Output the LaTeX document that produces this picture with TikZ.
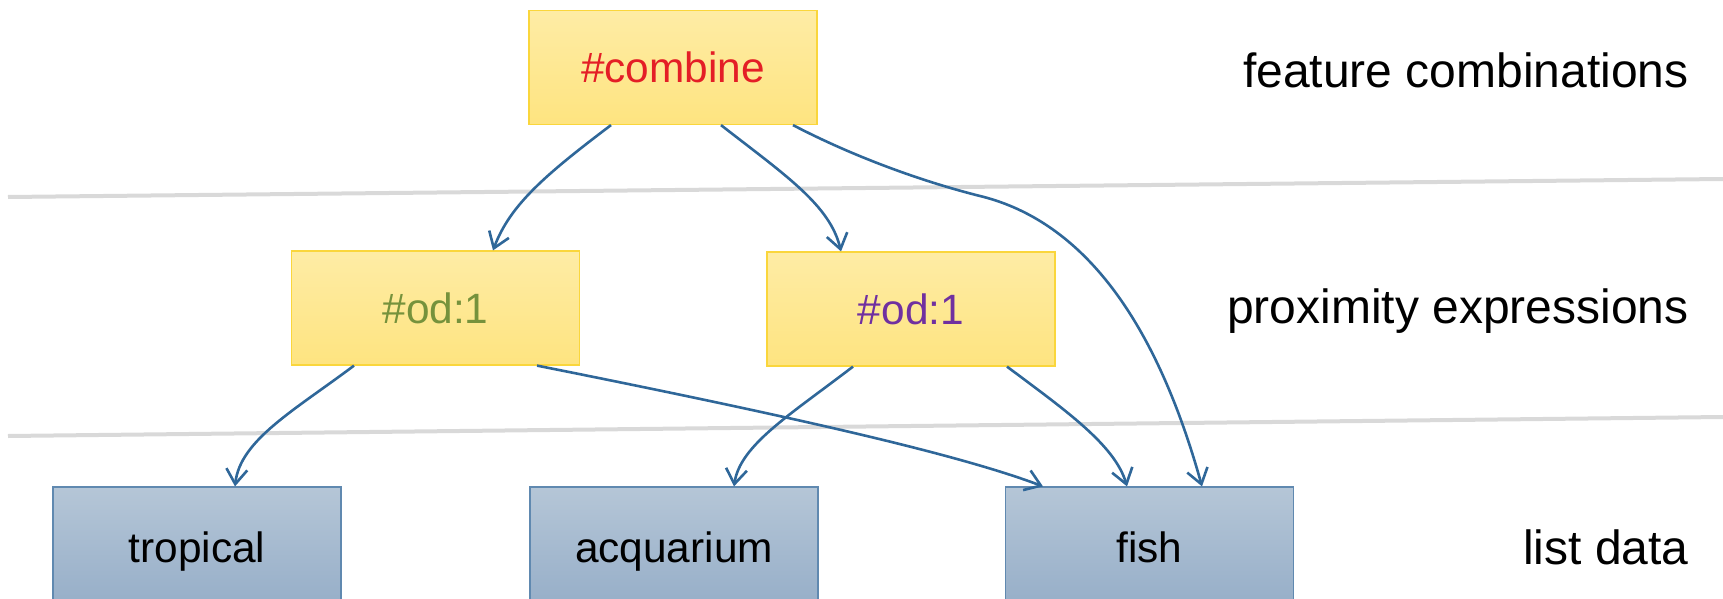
\documentclass[tikz,border=0pt]{standalone}
\usepackage{fontspec}
\setmainfont{Liberation Sans}
\usetikzlibrary{arrows.meta,calc}
\definecolor{ytop}{RGB}{254,236,165}
\definecolor{ybot}{RGB}{254,228,128}
\definecolor{yline}{RGB}{250,214,60}
\definecolor{btop}{RGB}{181,198,215}
\definecolor{bbot}{RGB}{150,174,200}
\definecolor{bline}{RGB}{96,137,176}
\definecolor{connc}{RGB}{47,103,153}
\definecolor{sepc}{RGB}{217,217,217}
\definecolor{tred}{RGB}{228,30,38}
\definecolor{tgreen}{RGB}{118,146,60}
\definecolor{tpurple}{RGB}{112,48,160}
\begin{document}
\begin{tikzpicture}[x=0.5pt,y=-0.5pt,
  ybox/.style={draw=yline, line width=0.6pt, top color=ytop, bottom color=ybot,
    minimum width=144pt, minimum height=57pt, inner sep=0pt,
    font=\fontsize{21.2}{25}\selectfont, text height=15.2pt, text depth=0pt},
  bbox/.style={draw=bline, line width=0.6pt, top color=btop, bottom color=bbot,
    minimum width=144pt, minimum height=60pt, inner sep=0pt, text=black,
    font=\fontsize{21.2}{25}\selectfont, text height=15.2pt, text depth=0pt},
  lbl/.style={anchor=base east, inner sep=0pt, font=\fontsize{24}{28}\selectfont},
  conn/.style={draw=connc, line width=1.3pt, -{Straight Barb[length=7.5pt,width=10.5pt]}},
  sepline/.style={draw=sepc, line width=2pt}]
\clip (0,0) rectangle (1723,599);
% separator lines
\coordinate (s1a) at (8,197);
\coordinate (s1b) at (1723,179);
\coordinate (s2a) at (8,436);
\coordinate (s2b) at (1723,417);
\draw[sepline] (s1a) -- (s1b);
\draw[sepline] (s2a) -- (s2b);
% nodes
\node[ybox, text=tred] (cmb) at (673,67.5) {\#combine};
\node[ybox, text=tgreen] (od1) at (435.5,308) {\#od:1};
\node[ybox, text=tpurple] (od2) at (911,309) {\#od:1};
\node[bbox] (trop) at (197,547) {tropical};
\node[bbox] (acq) at (674,547) {acquarium};
\node[bbox] (fish) at (1149.5,547) {fish};
% labels
\node[lbl] (l1) at (1689,88) {feature combinations};
\node[lbl] (l2) at (1689,323) {proximity expressions};
\node[lbl] (l3) at (1689,564) {list data};
% connectors
\draw[conn] ($(cmb.south)+(-62,0)$) .. controls (545,175) and (510,205) .. ($(od1.north)+(57.5,0)$);
\draw[conn] ($(cmb.south)+(48,0)$) .. controls (785,175) and (830,205) .. ($(od2.north)+(-70,0)$);
\draw[conn] ($(cmb.south)+(120,0)$) .. controls (860,160) and (930,183.5) .. (980,196)
  .. controls (1070,218) and (1150,300) .. ($(fish.north)+(52.5,0)$);
\draw[conn] ($(od1.south)+(-81.5,0)$) .. controls (295,410) and (240,440) .. ($(trop.north)+(38,0)$);
\draw[conn] ($(od1.south)+(101.5,0)$) .. controls (800,418) and (960,455) .. ($(fish.north)+(-106.5,0)$);
\draw[conn] ($(od2.south)+(-58,0)$) .. controls (790,415) and (740,445) .. ($(acq.north)+(60,0)$);
\draw[conn] ($(od2.south)+(96,0)$) .. controls (1065,410) and (1115,445) .. ($(fish.north)+(-22.5,0)$);
\end{tikzpicture}
\end{document}
